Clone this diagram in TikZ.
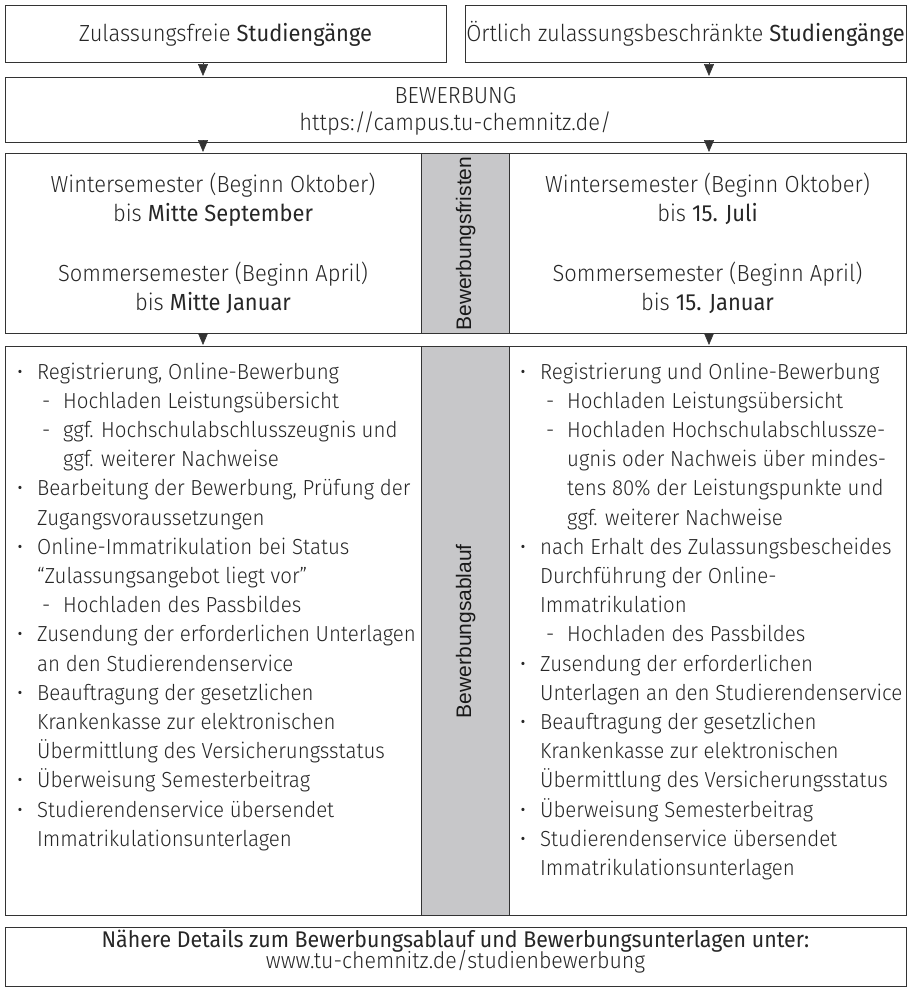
\documentclass[tikz,border=0pt]{standalone}
\usepackage{fontspec}
\setmainfont{Fira Sans Light}[BoldFont={Fira Sans},FakeStretch=0.94]
\newfontfamily\vfont{Liberation Sans}
\usetikzlibrary{arrows.meta}
\definecolor{ink}{HTML}{262626}
\definecolor{frame}{HTML}{333333}
\definecolor{colgrey}{HTML}{C7C7C9}
\newcommand\bl{\makebox[20pt][l]{•}}
\newcommand\dsh{\makebox[21pt][l]{-}}
\newcommand\mkline[4]{\node[txt,anchor=base west] (#1) at (#2,#3) {#4};}
\begin{document}
\begin{tikzpicture}[x=1pt,y=-1pt,
  box/.style={draw=frame,line width=1.3pt,anchor=north west,inner sep=0pt},
  greybox/.style={box,fill=colgrey},
  txt/.style={inner sep=0pt,text=ink,font=\fontsize{21.8}{29}\selectfont},
  ctxt/.style={inner sep=0pt,text=ink,anchor=base,font=\fontsize{23.3}{29}\selectfont},
  ftxt/.style={ctxt,font=\fontsize{22.7}{29}\selectfont},
  vtxt/.style={inner sep=0pt,text=black!90,font=\vfont\fontsize{21}{25}\selectfont,rotate=90},
  tri/.style={-{Triangle[width=10pt,length=12pt]},line width=0.6pt,draw=frame,shorten >=1pt}]
\useasboundingbox (0,0) rectangle (909,989);
% boxes
\node[box,minimum width=441pt,minimum height=57pt] (zf) at (5,5) {};
\node[box,minimum width=441pt,minimum height=57pt] (ozb) at (465,5) {};
\node[box,minimum width=901pt,minimum height=65pt] (bew) at (5,77) {};
\node[box,minimum width=416pt,minimum height=180pt] (fl) at (5,153) {};
\node[greybox,minimum width=88pt,minimum height=180pt] (fg) at (421,153) {};
\node[box,minimum width=397pt,minimum height=180pt] (fr) at (509,153) {};
\node[box,minimum width=416pt,minimum height=569pt] (al) at (5,346) {};
\node[greybox,minimum width=88pt,minimum height=569pt] (ag) at (421,346) {};
\node[box,minimum width=397pt,minimum height=569pt] (ar) at (509,346) {};
\node[box,minimum width=901pt,minimum height=59pt] (ft) at (5,927) {};
% arrow columns
\coordinate (cl) at (203,0);
\coordinate (cr) at (709,0);
\draw[tri] (zf.south -| cl) -- (bew.north -| cl);
\draw[tri] (ozb.south -| cr) -- (bew.north -| cr);
\draw[tri] (bew.south -| cl) -- (fl.north -| cl);
\draw[tri] (bew.south -| cr) -- (fr.north -| cr);
\draw[tri] (fl.south -| cl) -- (al.north -| cl);
\draw[tri] (fr.south -| cr) -- (ar.north -| cr);
% top texts
\node[ctxt] (t1) at (225.5,41) {Zulassungsfreie \textbf{Studiengänge}};
\node[ctxt] (t2) at (685.5,41) {Örtlich zulassungsbeschränkte \textbf{Studiengänge}};
\node[ctxt] (t3) at (455.5,103) {BEWERBUNG};
\node[ctxt] (t4) at (455.5,130) {https://campus.tu-chemnitz.de/};
% Fristen
\node[ctxt] (f1) at (213,192) {Wintersemester (Beginn Oktober)};
\node[ctxt] (f2) at (213,221) {bis \textbf{Mitte September}};
\node[ctxt] (f3) at (213,281) {Sommersemester (Beginn April)};
\node[ctxt] (f4) at (213,310) {bis \textbf{Mitte Januar}};
\node[ctxt] (f5) at (707.5,192) {Wintersemester (Beginn Oktober)};
\node[ctxt] (f6) at (707.5,221) {bis \textbf{15. Juli}};
\node[ctxt] (f7) at (707.5,281) {Sommersemester (Beginn April)};
\node[ctxt] (f8) at (707.5,310) {bis \textbf{15. Januar}};
\node[vtxt] (vf) at (fg.center) {Bewerbungsfristen};
\node[vtxt] (va) at (ag.center) {Bewerbungsablauf};
% Ablauf left
\mkline{l1}{17}{379}{\bl Registrierung, Online-Bewerbung}
\mkline{l2}{42}{408.2}{\dsh Hochladen Leistungsübersicht}
\mkline{l3}{42}{437.4}{\dsh ggf. Hochschulabschlusszeugnis und}
\mkline{l4}{63}{466.6}{ggf. weiterer Nachweise}
\mkline{l5}{17}{495.8}{\bl Bearbeitung der Bewerbung, Prüfung der}
\mkline{l6}{37}{525}{Zugangsvoraussetzungen}
\mkline{l7}{17}{554.2}{\bl Online-Immatrikulation bei Status}
\mkline{l8}{37}{583.4}{“Zulassungsangebot liegt vor”}
\mkline{l9}{42}{612.6}{\dsh Hochladen des Passbildes}
\mkline{l10}{17}{641.8}{\bl Zusendung der erforderlichen Unterlagen}
\mkline{l11}{37}{671}{an den Studierendenservice}
\mkline{l12}{17}{700.2}{\bl Beauftragung der gesetzlichen}
\mkline{l13}{37}{729.4}{Krankenkasse zur elektronischen}
\mkline{l14}{37}{758.6}{Übermittlung des Versicherungsstatus}
\mkline{l15}{17}{787.8}{\bl Überweisung Semesterbeitrag}
\mkline{l16}{17}{817}{\bl Studierendenservice übersendet}
\mkline{l17}{37}{846.2}{Immatrikulationsunterlagen}
% Ablauf right
\mkline{r1}{520}{379}{\bl Registrierung und Online-Bewerbung}
\mkline{r2}{546}{408.2}{\dsh Hochladen Leistungsübersicht}
\mkline{r3}{546}{437.4}{\dsh Hochladen Hochschulabschlussze-}
\mkline{r4}{567}{466.6}{ugnis oder Nachweis über mindes-}
\mkline{r5}{567}{495.8}{tens 80\% der Leistungspunkte und}
\mkline{r6}{567}{525}{ggf. weiterer Nachweise}
\mkline{r7}{520}{554.2}{\bl nach Erhalt des Zulassungsbescheides}
\mkline{r8}{540}{583.4}{Durchführung der Online-}
\mkline{r9}{540}{612.6}{Immatrikulation}
\mkline{r10}{546}{641.8}{\dsh Hochladen des Passbildes}
\mkline{r11}{520}{671}{\bl Zusendung der erforderlichen}
\mkline{r12}{540}{700.2}{Unterlagen an den Studierendenservice}
\mkline{r13}{520}{729.4}{\bl Beauftragung der gesetzlichen}
\mkline{r14}{540}{758.6}{Krankenkasse zur elektronischen}
\mkline{r15}{540}{787.8}{Übermittlung des Versicherungsstatus}
\mkline{r16}{520}{817}{\bl Überweisung Semesterbeitrag}
\mkline{r17}{520}{846.2}{\bl Studierendenservice übersendet}
\mkline{r18}{540}{875.4}{Immatrikulationsunterlagen}
% footer
\node[ftxt] (n1) at (455.5,947) {\textbf{Nähere Details zum Bewerbungsablauf und Bewerbungsunterlagen unter:}};
\node[ftxt] (n2) at (455.5,968) {www.tu-chemnitz.de/studienbewerbung};
\end{tikzpicture}
\end{document}
